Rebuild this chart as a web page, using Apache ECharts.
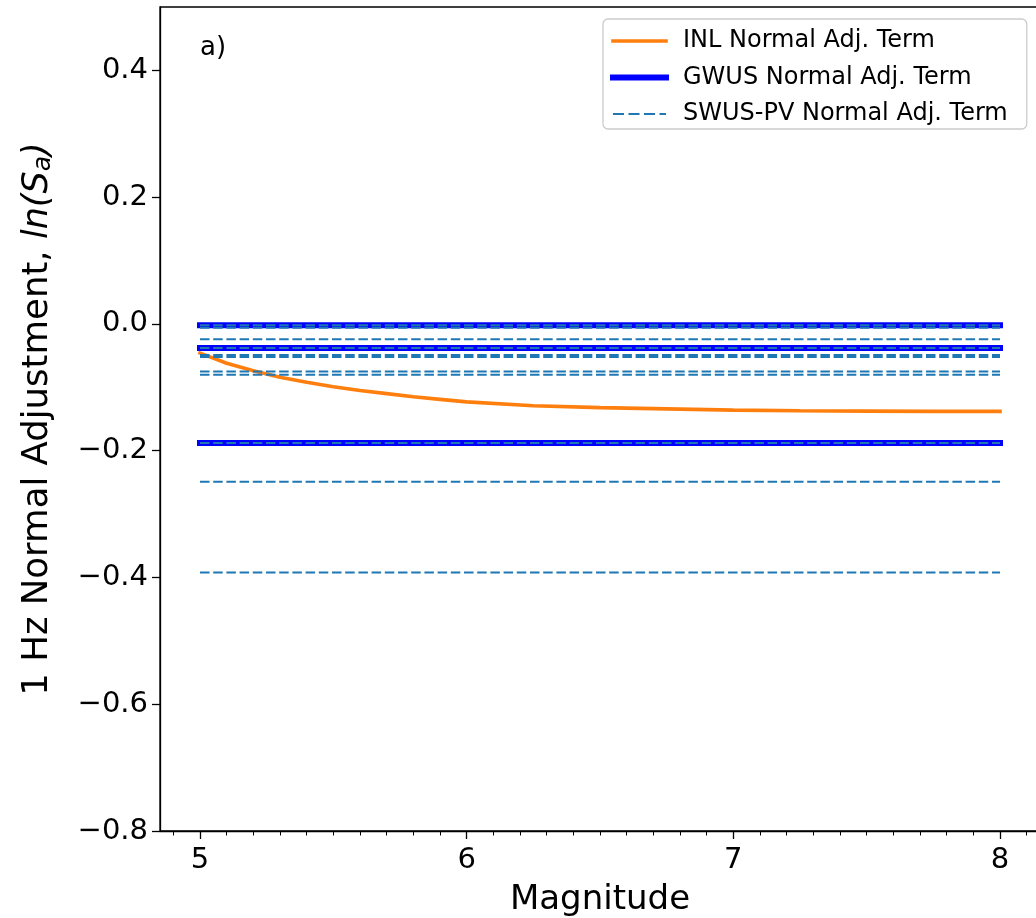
<!DOCTYPE html>
<html>
<head>
<meta charset="utf-8">
<script src="https://cdn.jsdelivr.net/npm/echarts@6/dist/echarts.min.js"></script>
<style>html,body{margin:0;padding:0;background:#fff}#chart{width:1036px;height:918px}</style>
</head>
<body>
<div id="chart"></div>
<script>
// ---- data ----
const magnitudes = [5.0, 5.1, 5.2, 5.3, 5.4, 5.5, 5.6, 5.7, 5.8, 5.9, 6.0, 6.25, 6.5, 6.75, 7.0, 7.25, 7.5, 7.75, 8.0];
const inlAdj = [-0.046, -0.062, -0.074, -0.084, -0.092, -0.099, -0.105, -0.110, -0.115, -0.119, -0.123, -0.129, -0.132, -0.134, -0.136, -0.137, -0.1375, -0.138, -0.138];
const gwusAdj = [-0.002, -0.038, -0.188];
const swusAdj = [-0.002, -0.006, -0.024, -0.038, -0.049, -0.052, -0.075, -0.080, -0.188, -0.249, -0.392];
const magRange = [5, 8];
const xMajorTicks = [5, 6, 7, 8];
const xMinorTicks = [4.9, 5.1, 5.2, 5.3, 5.4, 5.5, 5.6, 5.7, 5.8, 5.9, 6.1, 6.2, 6.3, 6.4, 6.5, 6.6, 6.7, 6.8, 6.9, 7.1, 7.2, 7.3, 7.4, 7.5, 7.6, 7.7, 7.8, 7.9, 8.1];
const yTicks = [-0.8, -0.6, -0.4, -0.2, 0.0, 0.2, 0.4];

const FONT = 'DejaVu Sans';
const INL = 'INL Normal Adj. Term', GWUS = 'GWUS Normal Adj. Term', SWUS = 'SWUS-PV Normal Adj. Term';

const series = [];
series.push({
  name: INL, type: 'line', symbol: 'none', z: 2,
  data: magnitudes.map((m, i) => [m, inlAdj[i]]),
  lineStyle: { color: '#ff7f0e', width: 3.6, cap: 'square' },
  itemStyle: { color: '#ff7f0e' }
});
gwusAdj.forEach(v => series.push({
  name: GWUS, type: 'line', symbol: 'none', z: 3,
  data: [[magRange[0], v], [magRange[1], v]],
  lineStyle: { color: '#0000ff', width: 6, cap: 'square' },
  itemStyle: { color: '#0000ff' }
}));
swusAdj.forEach(v => series.push({
  name: SWUS, type: 'line', symbol: 'none', z: 4,
  data: [[magRange[0], v], [magRange[1], v]],
  lineStyle: { color: '#1f77b4', width: 2, type: [9.5, 3.7], cap: 'butt' },
  itemStyle: { color: '#1f77b4' }
}));

const chart = echarts.init(document.getElementById('chart'), null, { renderer: 'canvas' });
chart.setOption({
  animation: false,
  backgroundColor: '#fff',
  textStyle: { fontFamily: FONT },
  grid: { left: 160, top: 7, width: 880, height: 824, show: true, borderColor: '#000', borderWidth: 1.3, containLabel: false, outerBoundsMode: 'none' },
  legend: {
    data: [
      { name: INL, lineStyle: { width: 3.6, color: '#ff7f0e' } },
      { name: GWUS, lineStyle: { width: 6, color: '#0000ff' } },
      { name: SWUS, lineStyle: { width: 2, color: '#1f77b4', type: [11, 4.5] } }
    ],
    orient: 'vertical', left: 603, top: 19,
    padding: [10, 19, 3, 7],
    itemWidth: 53, itemHeight: 14, itemGap: 12.5,
    itemStyle: { opacity: 0 },
    backgroundColor: 'rgba(255,255,255,0.8)',
    borderColor: '#cccccc', borderWidth: 1.3, borderRadius: 5,
    textStyle: { fontFamily: FONT, fontSize: 24, color: '#000', padding: [0, 0, 0, 12] }
  },
  xAxis: [{
    type: 'value', min: 4.85, max: 8.15,
    name: 'Magnitude', nameLocation: 'middle', nameGap: 52,
    nameTextStyle: { fontFamily: FONT, fontSize: 34, color: '#000' },
    axisLine: { show: true, onZero: false, lineStyle: { color: '#000', width: 1.3 } },
    axisTick: { show: true, length: 8, customValues: xMajorTicks, lineStyle: { color: '#000', width: 1.3 } },
    axisLabel: { show: true, customValues: xMajorTicks, fontFamily: FONT, fontSize: 29, color: '#000', margin: 15, formatter: v => String(v) },
    splitLine: { show: false }
  }, {
    type: 'value', min: 4.85, max: 8.15, position: 'bottom',
    axisLine: { show: false, onZero: false },
    axisTick: { show: true, length: 4.5, customValues: xMinorTicks, lineStyle: { color: '#000', width: 1 } },
    axisLabel: { show: false },
    splitLine: { show: false }
  }],
  yAxis: {
    type: 'value', min: -0.8, max: 0.5,
    name: '1 Hz Normal Adjustment, {i|ln(S}{sub|a}{i|)}', nameLocation: 'middle', nameGap: 104,
    nameTextStyle: {
      fontFamily: FONT, fontSize: 35.5, color: '#000',
      rich: {
        i: { fontFamily: FONT, fontSize: 35, fontStyle: 'italic', color: '#000' },
        sub: { fontFamily: FONT, fontSize: 25, fontStyle: 'italic', color: '#000', padding: [12, 0, 0, 0] }
      }
    },
    axisLine: { show: true, onZero: false, lineStyle: { color: '#000', width: 1.3 } },
    axisTick: { show: true, length: 8, customValues: yTicks, lineStyle: { color: '#000', width: 1.3 } },
    axisLabel: { show: true, customValues: yTicks, fontFamily: FONT, fontSize: 29, color: '#000', margin: 12, padding: [3, 0, 0, 0],
      formatter: v => Number(v).toFixed(1).replace('-', '\u2212') },
    splitLine: { show: false }
  },
  graphic: [{
    type: 'text', left: 200, top: 35,
    style: { text: 'a)', font: '26px "DejaVu Sans"', fill: '#000' }
  }],
  series: series
});
</script>
</body>
</html>
